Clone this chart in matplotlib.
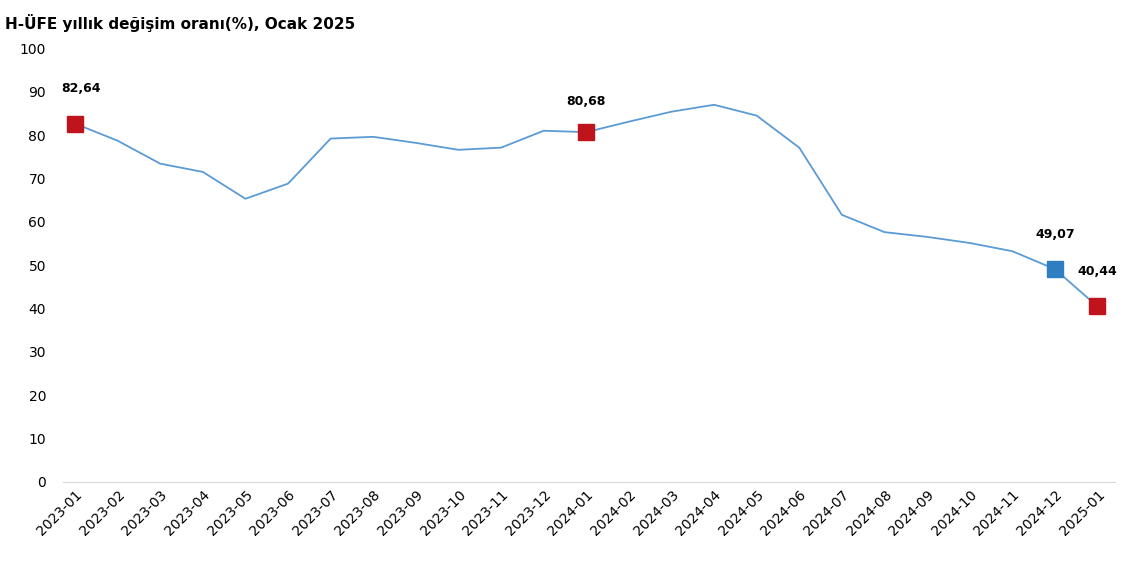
import matplotlib
matplotlib.use("Agg")
import matplotlib.pyplot as plt

months = ["2023-01","2023-02","2023-03","2023-04","2023-05","2023-06","2023-07","2023-08","2023-09","2023-10","2023-11","2023-12",
          "2024-01","2024-02","2024-03","2024-04","2024-05","2024-06","2024-07","2024-08","2024-09","2024-10","2024-11","2024-12","2025-01"]
values = [82.64,78.7,73.4,71.5,65.3,68.8,79.2,79.6,78.2,76.6,77.1,81.0,
          80.68,83.1,85.4,87.0,84.5,77.1,61.6,57.6,56.5,55.1,53.2,49.07,40.44]
red_idx = [0, 12, 24]
blue_idx = [23]

fig = plt.figure(figsize=(11.4, 5.7), dpi=100)
ax = fig.add_axes([0.055, 0.155, 0.923, 0.76])
x = list(range(len(months)))
ax.plot(x, values, color="#5b9bd5", lw=1.3, zorder=2)
for i in red_idx:
    ax.plot(i, values[i], marker="s", ms=12, color="#c0141c", zorder=3)
for i in blue_idx:
    ax.plot(i, values[i], marker="s", ms=12, color="#2e7fc1", zorder=3)
offsets = {0: (0.15, 6.5), 12: (0, 5.5), 23: (0, 6.5), 24: (0, 6.5)}
for i in red_idx + blue_idx:
    dx, dy = offsets[i]
    ax.text(i + dx, values[i] + dy, f"{values[i]:.2f}".replace(".", ","), ha="center", va="bottom",
            fontsize=9, fontweight="bold")
ax.set_xlim(-0.29, 24.41)
ax.set_ylim(0, 100)
ax.set_yticks(range(0, 101, 10))
ax.set_xticks(x)
ax.set_xticklabels(months, rotation=45, ha="right", rotation_mode="anchor", fontsize=10)
ax.tick_params(axis="y", labelsize=10, length=0, pad=12)
ax.tick_params(axis="x", length=0, pad=4)
for s in ["top", "right", "left"]:
    ax.spines[s].set_visible(False)
ax.spines["bottom"].set_color("#d9d9d9")
fig.text(0.004, 0.975, "H-ÜFE yıllık değişim oranı(%), Ocak 2025", fontsize=11, fontweight="bold", va="top")
fig.savefig("out.png")
